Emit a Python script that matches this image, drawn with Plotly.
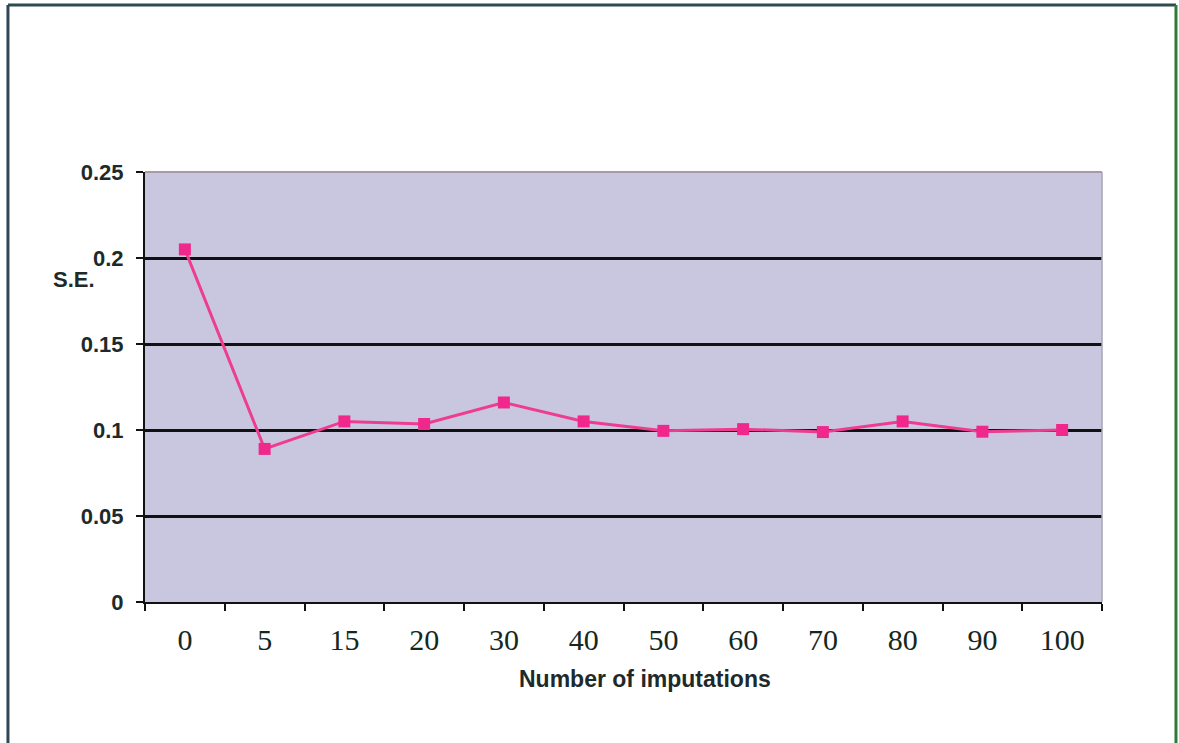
import plotly.graph_objects as go

categories = ["0", "5", "15", "20", "30", "40", "50", "60", "70", "80", "90", "100"]
se_values = [0.205, 0.089, 0.105, 0.1035, 0.116, 0.105, 0.0995, 0.1005, 0.0988, 0.105, 0.099, 0.100]
y_ticks = [0, 0.05, 0.1, 0.15, 0.2, 0.25]
y_ticktext = ["0", "0.05", "0.1", "0.15", "0.2", "0.25"]

fig = go.Figure()
fig.add_trace(go.Scatter(
    x=categories, y=se_values, mode="lines+markers",
    line=dict(color="#EE3C90", width=3),
    marker=dict(symbol="square", size=12, color="#F0288C"),
    showlegend=False,
))

fig.update_layout(
    width=1179, height=743,
    margin=dict(l=145, r=77, t=172, b=141),
    paper_bgcolor="white",
    plot_bgcolor="#C9C7DF",
    font=dict(family="Liberation Sans, Arial", color="#1E2A2A"),
    xaxis=dict(
        type="category", range=[-0.5, 11.5],
        showgrid=False, zeroline=False,
        showline=True, linecolor="#111111", linewidth=2,
        ticks="outside", tickson="boundaries", ticklen=7, tickwidth=2, tickcolor="#111111",
        tickfont=dict(family="Liberation Serif, Times New Roman", size=30, color="#14281E"),
        ticklabelstandoff=10,
    ),
    yaxis=dict(
        range=[0, 0.25], tickvals=y_ticks, ticktext=["<b>%s</b>" % t for t in y_ticktext],
        showgrid=True, gridcolor="#111111", gridwidth=2.5,
        zeroline=False,
        showline=True, linecolor="#111111", linewidth=2,
        ticks="outside", ticklen=7, tickwidth=2, tickcolor="#111111",
        tickfont=dict(size=22, color="#1E2A2A"),
        ticklabelstandoff=8,
    ),
)

# plot-area border (top/right light grey)
fig.add_shape(type="line", xref="paper", yref="paper", x0=0, x1=1, y0=1, y1=1,
              line=dict(color="#A898A8", width=2), layer="above")
fig.add_shape(type="line", xref="paper", yref="paper", x0=1, x1=1, y0=0, y1=1,
              line=dict(color="#A8A4B4", width=1.5), layer="above")

# outer frame
fig.add_shape(type="line", xref="paper", yref="paper", x0=-0.1432, x1=-0.1432, y0=-0.34, y1=1.3884,
              line=dict(color="#2E4656", width=3))
fig.add_shape(type="line", xref="paper", yref="paper", x0=-0.1432, x1=1.0773, y0=1.3884, y1=1.3884,
              line=dict(color="#2E4A4E", width=3))
fig.add_shape(type="line", xref="paper", yref="paper", x0=1.0773, x1=1.0773, y0=-0.34, y1=1.3884,
              line=dict(color="#2E7A3A", width=3))

fig.add_annotation(text="<b>S.E.</b>", xref="paper", yref="paper", x=-0.0742, y=0.749,
                   xanchor="center", yanchor="middle",
                   showarrow=False, font=dict(size=22, color="#1E2A2A"))
fig.add_annotation(text="<b>Number of imputations</b>", xref="paper", yref="paper", x=0.5225, y=-0.179,
                   xanchor="center", yanchor="middle",
                   showarrow=False, font=dict(size=23, color="#1E2A2A"))

fig.write_html("out.html", config={"displayModeBar": False},
               post_script="document.body.style.margin='0';document.body.style.overflow='hidden';")
